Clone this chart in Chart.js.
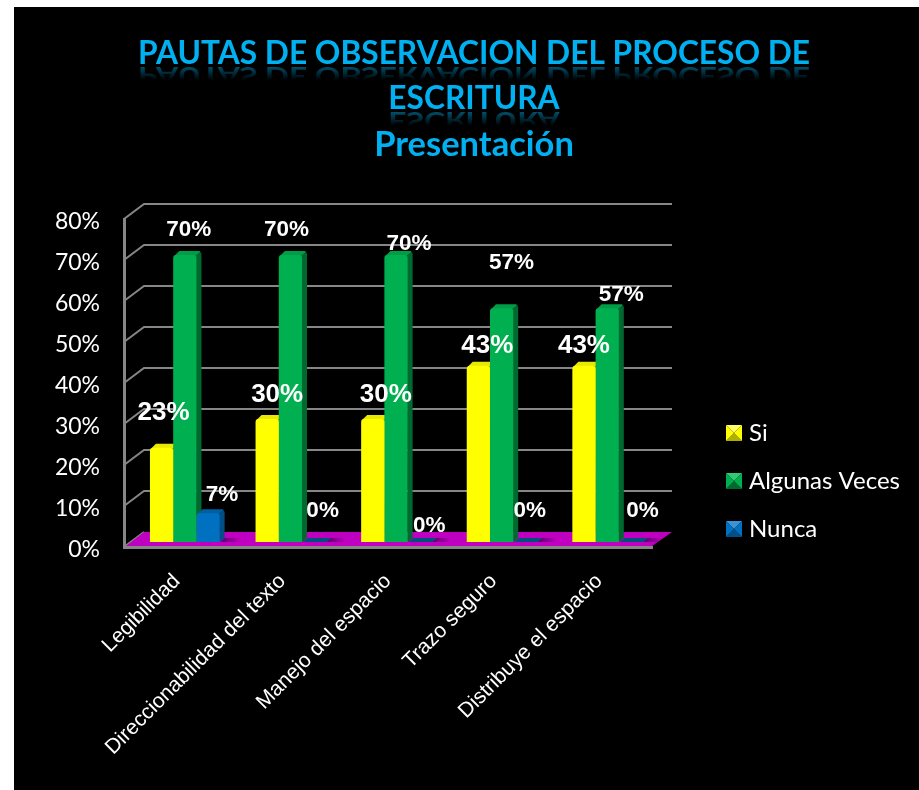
<!DOCTYPE html>
<html>
<head>
<meta charset="utf-8">
<title>Pautas de observacion</title>
<script src="https://cdn.jsdelivr.net/npm/chart.js@4"></script>
<style>
  html, body { margin: 0; padding: 0; background: #fff; overflow: hidden; }
  #wrap { position: absolute; left: 14px; top: 7px; width: 905px; height: 783px; background: #000; }
  canvas { display: block; }
</style>
</head>
<body>
<div id="wrap"><canvas id="c" width="905" height="783"></canvas></div>
<script>
const categories = ['Legibilidad', 'Direccionabilidad del texto', 'Manejo del espacio', 'Trazo seguro', 'Distribuye el espacio'];
const si = [23, 30, 30, 43, 43];
const algunasVeces = [70, 70, 70, 57, 57];
const nunca = [7, 0, 0, 0, 0];
const titleLines = ['PAUTAS DE OBSERVACION DEL PROCESO DE', 'ESCRITURA'];
const subtitleLine = 'Presentación';

// hand-moved data labels in the original, offset from the top of each bar
const labelMoves = [
    [[2, -35], [10, -24], [13, -24], [9, -20], [0, -20]],
    [[4, -25], [-4, -25], [13, -11], [10, -46], [14, -14]],
    [[14, -19], [9, -31], [10, -16], [5, -31], [12, -31]]
];

// fake 3D: bars stand part way into the floor, walls at the back
const barShift = { x: 8, y: -5 };
const wallShift = { x: 20, y: -15 };
const depth = { x: 5, y: -4 };

const colors = [
    { face: '#FFFF00', side: '#B0B000', top: '#E8E800', edge: '#FFFF66' },
    { face: '#00B050', side: '#00692F', top: '#009C46', edge: '#33C873' },
    { face: '#0070C0', side: '#004F88', top: '#005FA3', edge: '#3A93D6' }
];

// legend square with a bevel, pushed to the right of its canvas so the text sits close
function marker(c) {
    const m = document.createElement('canvas');
    m.width = 26; m.height = 16;
    const g = m.getContext('2d');
    g.translate(10, 0);
    const tri = (pts, fill) => {
        g.fillStyle = fill;
        g.beginPath();
        pts.forEach((p, i) => i ? g.lineTo(p[0], p[1]) : g.moveTo(p[0], p[1]));
        g.closePath();
        g.fill();
    };
    tri([[0, 0], [16, 0], [8, 8]], c.edge);
    tri([[0, 16], [16, 16], [8, 8]], c.side);
    tri([[0, 0], [0, 16], [8, 8]], c.face);
    tri([[16, 0], [16, 16], [8, 8]], c.face);
    return m;
}
const markers = colors.map(marker);

function poly(ctx, pts, fill) {
    ctx.fillStyle = fill;
    ctx.beginPath();
    pts.forEach((p, i) => i ? ctx.lineTo(p[0], p[1]) : ctx.moveTo(p[0], p[1]));
    ctx.closePath();
    ctx.fill();
}

const legendSpot = {
    id: 'legendSpot',
    afterLayout(chart) {
        const l = chart.legend;
        l.left = 683; l.right = 905;
        l.top = 390; l.bottom = 600;
    }
};

const walls = {
    id: 'walls',
    beforeDatasetsDraw(chart) {
        const { ctx, chartArea: a, scales: { y } } = chart;
        ctx.save();
        ctx.strokeStyle = '#868686';
        ctx.lineWidth = 2;
        y.ticks.forEach(t => {
            const py = y.getPixelForValue(t.value);
            ctx.beginPath();
            ctx.moveTo(a.left, py);
            ctx.lineTo(a.left + wallShift.x, py + wallShift.y);
            if (t.value > 0) ctx.lineTo(a.right + wallShift.x, py + wallShift.y);
            ctx.stroke();
        });
        // floor
        poly(ctx, [
            [a.left + 2, a.bottom - 1],
            [a.left + wallShift.x, a.bottom + wallShift.y],
            [a.right + wallShift.x, a.bottom + wallShift.y],
            [a.right, a.bottom - 1]
        ], '#C000C0');
        // side and top faces go first, the library's fronts cover what they should
        ctx.translate(barShift.x, barShift.y);
        // soft shadow on the floor to the right of each group
        chart.getDatasetMeta(2).data.forEach(b => {
            const r = b.x + b.width / 2 + depth.x;
            const g = ctx.createLinearGradient(r, 0, r + 16, 0);
            g.addColorStop(0, 'rgba(70,0,90,0.7)');
            g.addColorStop(1, 'rgba(70,0,90,0)');
            poly(ctx, [[r - 4, b.base], [r + 12, b.base], [r + 16, b.base + depth.y], [r, b.base + depth.y]], g);
        });
        chart.data.datasets.forEach((ds, i) => {
            const c = colors[i];
            chart.getDatasetMeta(i).data.forEach(b => {
                const l = b.x - b.width / 2, r = b.x + b.width / 2;
                const t = b.y, base = b.base;
                if (base - t < 1) {
                    // zero value: only a flat dark patch on the floor
                    poly(ctx, [[l + 1, base], [r + 1, base], [r + depth.x + 1, base + depth.y], [l + depth.x + 1, base + depth.y]], '#00507E');
                    return;
                }
                poly(ctx, [[r - 1, t + 1], [r + depth.x - 1, t + depth.y + 1], [r + depth.x, t + depth.y + 3], [r + depth.x, base + depth.y], [r, base]], c.side);
                poly(ctx, [[l + 1, t + 1], [l + depth.x + 1, t + depth.y], [r + depth.x - 2, t + depth.y], [r + depth.x - 1, t + depth.y + 1], [r - 1, t + 1]], c.top);
            });
        });
        ctx.restore();
    },
    beforeDatasetDraw(chart) {
        chart.ctx.save();
        chart.ctx.translate(barShift.x, barShift.y);
    },
    afterDatasetDraw(chart) {
        chart.ctx.restore();
    }
};

const labels3d = {
    id: 'labels3d',
    afterDatasetsDraw(chart) {
        const { ctx } = chart;
        ctx.save();
        ctx.fillStyle = '#fff';
        ctx.textAlign = 'center';
        ctx.textBaseline = 'middle';
        chart.data.datasets.forEach((ds, i) => {
            ctx.font = 'bold ' + (i === 0 ? 26 : 22.5) + 'px "Liberation Sans"';
            chart.getDatasetMeta(i).data.forEach((b, j) => {
                const m = labelMoves[i][j];
                ctx.fillText(ds.data[j] + '%', b.x + barShift.x + m[0], b.y + barShift.y + m[1]);
            });
        });
        ctx.restore();
    }
};

// faded mirror under the two upper title lines
const reflection = {
    id: 'reflection',
    afterDraw(chart) {
        const { ctx } = chart;
        const t = chart.titleBlock;
        const cx = (t.left + t.right) / 2;
        const lh = 45.5;
        ctx.save();
        ctx.font = 'bold 31.7px Lato';
        ctx.textAlign = 'center';
        ctx.textBaseline = 'alphabetic';
        titleLines.forEach((line, i) => {
            const base = t.top + t.options.padding.top + lh * i + lh / 2 + 13;
            ctx.save();
            ctx.translate(cx, base);
            ctx.scale(1, -0.75);
            const g = ctx.createLinearGradient(0, 0, 0, -18);
            g.addColorStop(0, 'rgba(0,176,240,0.45)');
            g.addColorStop(1, 'rgba(0,176,240,0)');
            ctx.fillStyle = g;
            ctx.fillText(line, 0, 0);
            ctx.restore();
        });
        ctx.restore();
    }
};

new Chart(document.getElementById('c'), {
    type: 'bar',
    data: {
        labels: categories,
        datasets: [
            { label: 'Si', data: si, backgroundColor: colors[0].face },
            { label: 'Algunas Veces', data: algunasVeces, backgroundColor: colors[1].face },
            { label: 'Nunca', data: nunca, backgroundColor: colors[2].face }
        ]
    },
    options: {
        responsive: false,
        animation: false,
        barPercentage: 1,
        categoryPercentage: 0.66,
        borderRadius: { topLeft: 3, topRight: 3, bottomLeft: 0, bottomRight: 0 },
        borderSkipped: false,
        layout: { padding: { left: 15, right: 0, top: 0, bottom: 0 } },
        scales: {
            x: {
                grid: { display: false },
                border: { color: '#868686', width: 3 },
                afterFit(s) { s.height = 243; },
                ticks: {
                    color: '#fff',
                    font: { family: '"Liberation Sans"', size: 21 },
                    minRotation: 45,
                    maxRotation: 45,
                    autoSkip: false,
                    padding: 14
                }
            },
            y: {
                min: 0,
                max: 80,
                grid: { display: false },
                border: { color: '#868686', width: 3 },
                afterFit(s) { s.width = 95; },
                ticks: {
                    stepSize: 10,
                    color: '#fff',
                    padding: 16,
                    labelOffset: 2.5,
                    font: { family: 'Lato', size: 23 },
                    callback: v => v + '%'
                }
            },
            // empty axis that only keeps room for the legend on the right
            room: {
                type: 'linear',
                axis: 'y',
                position: 'right',
                grid: { display: false },
                border: { display: false },
                ticks: { display: false },
                afterFit(s) { s.width = 267; }
            }
        },
        plugins: {
            title: {
                display: true,
                text: titleLines,
                color: '#00B0F0',
                font: { family: 'Lato', size: 31.7, weight: 'bold', lineHeight: 1.435 },
                padding: { top: 24, bottom: 0 }
            },
            subtitle: {
                display: true,
                text: subtitleLine,
                color: '#00B0F0',
                font: { family: 'Lato', size: 34.5, weight: 'bold', lineHeight: 1.32 },
                padding: { top: 0, bottom: 51.5 }
            },
            legend: {
                position: 'chartArea',
                align: 'start',
                labels: {
                    color: '#fff',
                    usePointStyle: true,
                    pointStyleWidth: 16,
                    font: { family: 'Lato', size: 24 },
                    padding: 24,
                    generateLabels(chart) {
                        const items = Chart.defaults.plugins.legend.labels.generateLabels(chart);
                        items.forEach((it, i) => { it.pointStyle = markers[i]; });
                        return items;
                    }
                }
            },
            tooltip: { enabled: false }
        }
    },
    plugins: [legendSpot, walls, labels3d, reflection]
});
</script>
</body>
</html>
